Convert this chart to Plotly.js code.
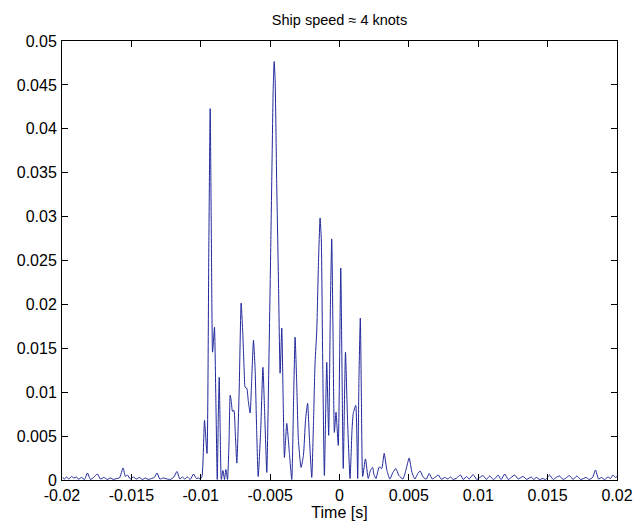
<!DOCTYPE html>
<html>
<head>
<meta charset="utf-8">
<script src="https://cdn.plot.ly/plotly-3.0.1.min.js"></script>
<style>
  html, body { margin: 0; padding: 0; background: #fff; }
  #chart { width: 634px; height: 521px; }
</style>
</head>
<body>
<div id="chart"></div>
<script>
// Time [s] and amplitude, pre-burst noise
const timeLead = [-0.01996,-0.01982,-0.01968,-0.01950,-0.01932,-0.01914,-0.01896,-0.01881,-0.01860,-0.01838,
  -0.01817,-0.01795,-0.01773,-0.01745,-0.01723,-0.01698,-0.01673,-0.01651,-0.01629,-0.01608,
  -0.01586,-0.01560,-0.01543,-0.01529,-0.01507,-0.01486,-0.01464,-0.01442,-0.01421,-0.01399,
  -0.01378,-0.01356,-0.01335,-0.01315,-0.01295,-0.01270,-0.01243,-0.01219,-0.01194,-0.01171,
  -0.01151,-0.01133,-0.01115,-0.01097,-0.01076,-0.01052,-0.01032,-0.01018,-0.01004,-0.00991];
const ampLead = [0.00029,0.00011,0.00034,0.00011,0.00040,0.00023,0.00034,0.00009,0.00029,0.00006,
  0.00080,0.00006,0.00029,0.00068,0.00011,0.00029,0.00006,0.00023,0.00006,0.00017,
  0.00023,0.00137,0.00040,0.00057,0.00011,0.00034,0.00011,0.00029,0.00006,0.00023,
  0.00006,0.00017,0.00029,0.00080,0.00011,0.00023,0.00011,0.00006,0.00034,0.00097,
  0.00011,0.00034,0.00011,0.00034,0.00006,0.00068,0.00017,0.00023,0.00011,0.00040];

// Main burst
const timeBurst = [-0.00973,-0.00955,-0.00942,-0.00932,-0.00924,-0.00915,-0.00908,-0.00901,-0.00891,-0.00881,
  -0.00874,-0.00867,-0.00860,-0.00852,-0.00840,-0.00829,-0.00819,-0.00807,-0.00796,-0.00788,
  -0.00781,-0.00771,-0.00761,-0.00752,-0.00740,-0.00723,-0.00709,-0.00698,-0.00687,-0.00680,
  -0.00668,-0.00658,-0.00644,-0.00633,-0.00620,-0.00608,-0.00597,-0.00586,-0.00568,-0.00552,
  -0.00540,-0.00524,-0.00511,-0.00495,-0.00486,-0.00478,-0.00471,-0.00464,-0.00453,-0.00440,
  -0.00428,-0.00416,-0.00406,-0.00397,-0.00380,-0.00361,-0.00344,-0.00331,-0.00320,-0.00309,
  -0.00296,-0.00277,-0.00260,-0.00245,-0.00230,-0.00216,-0.00200,-0.00187,-0.00176,-0.00164,
  -0.00151,-0.00140,-0.00131,-0.00122,-0.00109,-0.00092,-0.00078,-0.00065,-0.00056,-0.00047,
  -0.00037,-0.00025,-0.00009,0.00009,0.00018,0.00027,0.00043,0.00058,0.00076,0.00090,
  0.00099,0.00117,0.00131,0.00140,0.00150,0.00158,0.00167,0.00187,0.00207,0.00223,
  0.00239,0.00248,0.00263,0.00286,0.00304,0.00322,0.00342,0.00363,0.00385,0.00406,
  0.00428,0.00457,0.00478,0.00502,0.00522,0.00543,0.00565,0.00581,0.00604,0.00626,0.00646];
const ampBurst = [0.00679,0.00303,0.02620,0.04230,0.02848,0.01456,0.01593,0.01741,0.00908,0.00006,
  0.00679,0.01170,0.00565,0.00006,0.00108,0.00006,0.00120,0.00006,0.00451,0.00965,
  0.00908,0.00782,0.00793,0.00565,0.00192,0.01022,0.02015,0.01707,0.01250,0.01056,
  0.01045,0.00908,0.00763,0.01136,0.01593,0.01250,0.00565,0.00040,0.00565,0.01284,
  0.00793,0.00086,0.01136,0.02700,0.03647,0.04447,0.04766,0.04561,0.03419,0.02278,
  0.01216,0.01730,0.00908,0.00257,0.00645,0.00303,0.00006,0.00908,0.01627,0.01136,
  0.00451,0.00143,0.00280,0.00679,0.00873,0.00451,0.00029,0.00679,0.01341,0.01695,
  0.02506,0.02985,0.02734,0.01478,0.00051,0.01341,0.00508,0.02049,0.02746,0.01707,
  0.00542,0.00771,0.00394,0.02414,0.01250,0.00131,0.01456,0.00679,0.00017,0.00565,
  0.00759,0.00850,0.00017,0.01136,0.01844,0.00908,0.00040,0.00240,0.00017,0.00108,
  0.00143,0.00063,0.00017,0.00148,0.00131,0.00303,0.00108,0.00011,0.00086,0.00131,
  0.00051,0.00011,0.00108,0.00251,0.00086,0.00011,0.00074,0.00103,0.00029,0.00011,0.00074];

// Post-burst noise
const timeTail = [0.00669,0.00691,0.00712,0.00734,0.00759,0.00781,0.00799,0.00820,0.00845,0.00872,
  0.00892,0.00915,0.00935,0.00963,0.00989,0.01011,0.01035,0.01058,0.01083,0.01108,
  0.01126,0.01142,0.01165,0.01191,0.01216,0.01237,0.01263,0.01288,0.01322,0.01349,
  0.01383,0.01399,0.01419,0.01442,0.01464,0.01486,0.01514,0.01540,0.01561,0.01586,
  0.01611,0.01633,0.01658,0.01683,0.01711,0.01737,0.01759,0.01778,0.01799,0.01824,
  0.01845,0.01867,0.01888,0.01910,0.01935,0.01953,0.01970,0.01989,0.02000];
const ampTail = [0.00011,0.00034,0.00057,0.00008,0.00029,0.00011,0.00034,0.00006,0.00023,0.00057,
  0.00006,0.00040,0.00011,0.00063,0.00006,0.00029,0.00051,0.00006,0.00046,0.00006,
  0.00023,0.00057,0.00006,0.00068,0.00006,0.00029,0.00057,0.00011,0.00040,0.00008,
  0.00034,0.00006,0.00029,0.00006,0.00017,0.00006,0.00057,0.00006,0.00029,0.00046,
  0.00006,0.00023,0.00051,0.00006,0.00046,0.00006,0.00017,0.00029,0.00006,0.00029,
  0.00114,0.00011,0.00029,0.00006,0.00034,0.00017,0.00057,0.00029,0.00040];

const xTickVals = [-0.02,-0.015,-0.01,-0.005,0,0.005,0.01,0.015,0.02];
const xTickText = ["-0.02","-0.015","-0.01","-0.005","0","0.005","0.01","0.015","0.02"];
const yTickVals = [0,0.005,0.01,0.015,0.02,0.025,0.03,0.035,0.04,0.045,0.05];
const yTickText = ["0","0.005","0.01","0.015","0.02","0.025","0.03","0.035","0.04","0.045","0.05"];

const chartTitle = "Ship speed \u2248 4 knots";
const xLabel = "Time [s]";

const t = timeLead.concat(timeBurst, timeTail);
const a = ampLead.concat(ampBurst, ampTail);

const fontFam = "Liberation Sans, Arial, Helvetica, sans-serif";

const trace = {
  x: t, y: a, type: "scatter", mode: "lines",
  line: { color: "rgb(32,40,155)", width: 1, shape: "spline", smoothing: 0.5 },
  hoverinfo: "skip"
};

const axisCommon = {
  showline: true, linecolor: "#000", linewidth: 1, mirror: "ticks",
  ticks: "inside", ticklen: 6, tickwidth: 1, tickcolor: "#000",
  showgrid: false, zeroline: false,
  tickfont: { family: fontFam, size: 16, color: "#000" },
  tickmode: "array", automargin: false
};

const layout = {
  width: 634, height: 521,
  margin: { l: 62, r: 17, t: 41, b: 41, pad: 0 },
  paper_bgcolor: "#fff", plot_bgcolor: "#fff",
  showlegend: false,
  title: {
    text: chartTitle,
    font: { family: fontFam, size: 14.5, color: "#000" },
    x: 0.5, xanchor: "center", xref: "paper",
    y: 0.962, yanchor: "middle", yref: "container"
  },
  xaxis: Object.assign({}, axisCommon, {
    range: [-0.02, 0.02],
    tickvals: xTickVals, ticktext: xTickText,
    ticklabelstandoff: 1,
    title: { text: xLabel, font: { family: fontFam, size: 16, color: "#000" }, standoff: 0 }
  }),
  yaxis: Object.assign({}, axisCommon, {
    range: [0, 0.05],
    tickvals: yTickVals, ticktext: yTickText,
    ticklabelstandoff: 1
  })
};

Plotly.newPlot("chart", [trace], layout, { displayModeBar: false, staticPlot: true });
</script>
</body>
</html>
